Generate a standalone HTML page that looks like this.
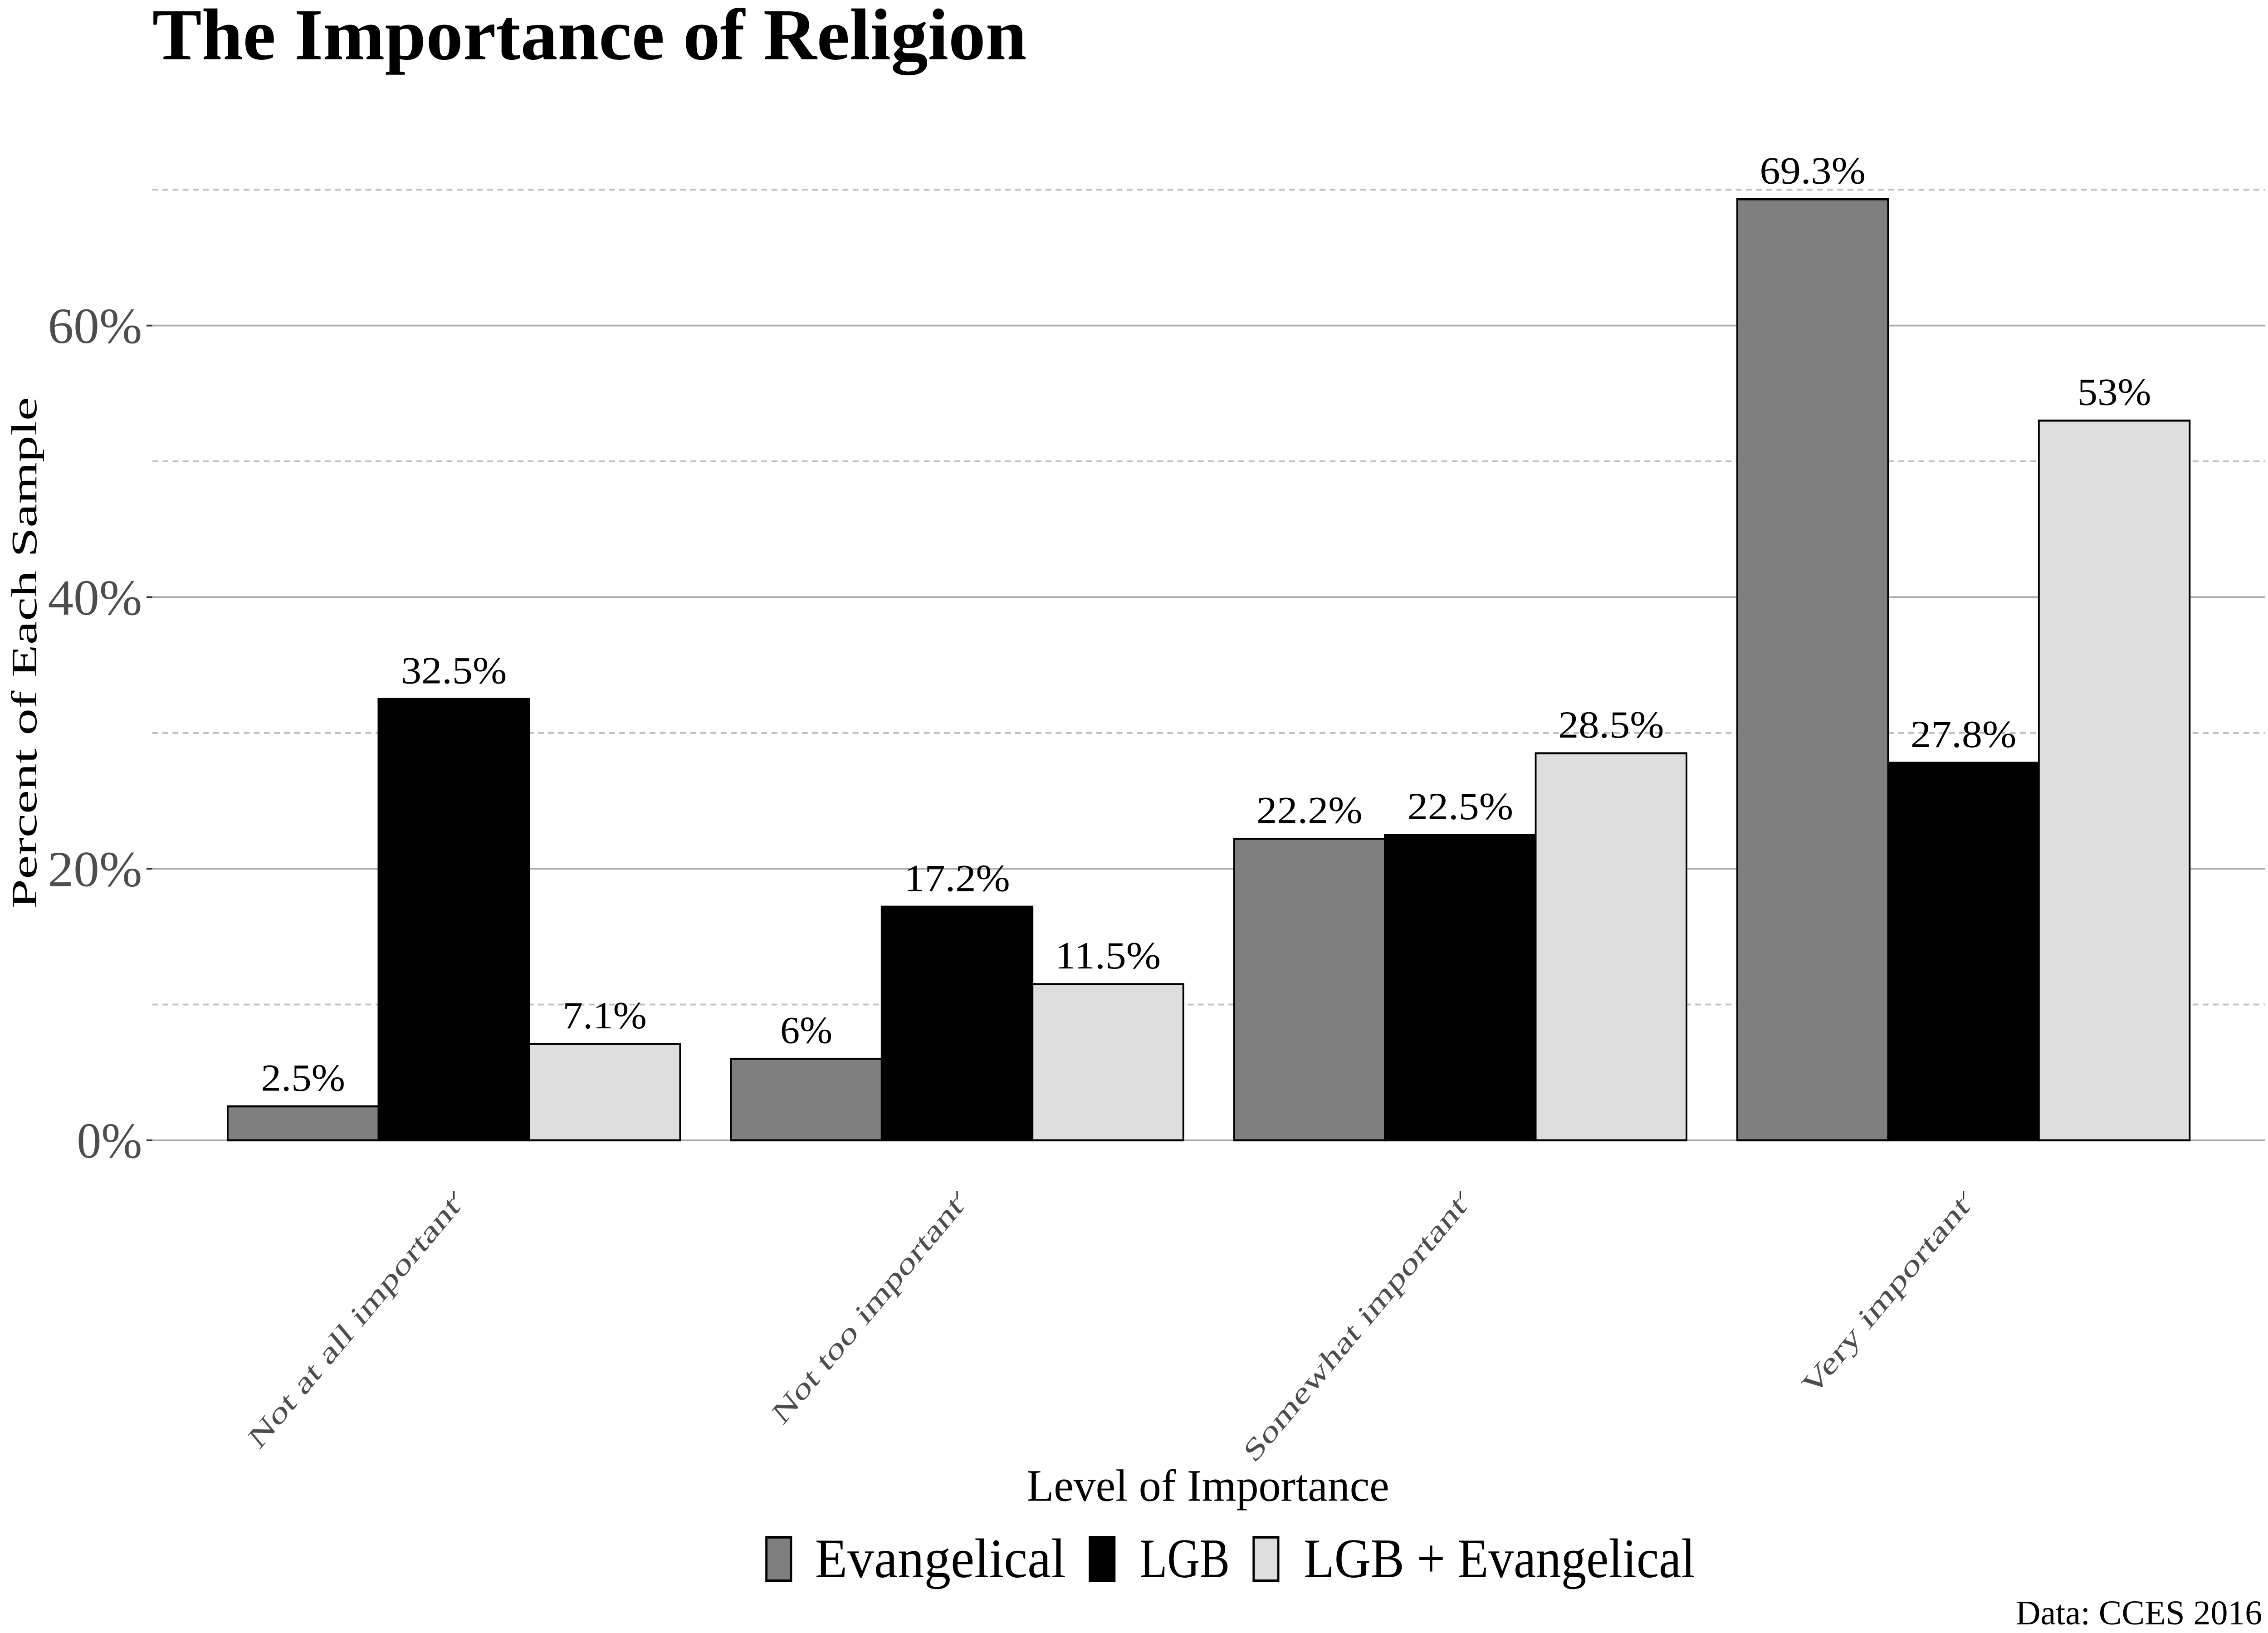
<!DOCTYPE html>
<html><head><meta charset="utf-8"><style>html,body{margin:0;padding:0;background:#fff;width:100%;height:100%;overflow:hidden;}svg{display:block;width:100vw;height:100vh;}</style></head>
<body>
<svg id="chart" xmlns="http://www.w3.org/2000/svg" viewBox="0 0 1564 938" preserveAspectRatio="none" font-family="'Liberation Serif', serif">
<rect x="0" y="0" width="1564" height="938" fill="#fff"/>
<text x="105" y="34" font-size="42" font-weight="bold" fill="#000" textLength="603" lengthAdjust="spacingAndGlyphs">The Importance of Religion</text>
<g id="grid"></g>
<g id="yticks"></g>
<g id="bars"></g>
<g id="xticks"></g>
<text x="0" y="0" transform="translate(25,375) rotate(-90)" text-anchor="middle" font-size="25" fill="#000" textLength="294" lengthAdjust="spacingAndGlyphs">Percent of Each Sample</text>
<text x="833" y="862" text-anchor="middle" font-size="26" fill="#000" textLength="250" lengthAdjust="spacingAndGlyphs">Level of Importance</text>
<g>
<g><rect x="528.5" y="883" width="17" height="25" fill="#7f7f7f" stroke="#000" stroke-width="1.5"/><text x="562" y="906" font-size="32" textLength="173" lengthAdjust="spacingAndGlyphs">Evangelical</text></g>
<g><rect x="751.5" y="883" width="17" height="25" fill="#000" stroke="#000" stroke-width="1.5"/><text x="786" y="906" font-size="32" textLength="62" lengthAdjust="spacingAndGlyphs">LGB</text></g>
<g><rect x="864.5" y="883" width="17" height="25" fill="#dedede" stroke="#000" stroke-width="1.5"/><text x="899" y="906" font-size="32" textLength="270" lengthAdjust="spacingAndGlyphs">LGB + Evangelical</text></g>
</g>
<text x="1560" y="933" text-anchor="end" font-size="20" fill="#000" textLength="170" lengthAdjust="spacingAndGlyphs">Data: CCES 2016</text>
</svg>
<script>
const categories = ["Not at all important","Not too important","Somewhat important","Very important"];
const seriesNames = ["Evangelical","LGB","LGB + Evangelical"];
const evangelical = [2.5, 6, 22.2, 69.3];
const lgb = [32.5, 17.2, 22.5, 27.8];
const lgbEvangelical = [7.1, 11.5, 28.5, 53];
const valueLabels = [["2.5%","6%","22.2%","69.3%"],["32.5%","17.2%","22.5%","27.8%"],["7.1%","11.5%","28.5%","53%"]];
const majorTicks = [0, 20, 40, 60];
const tickLabels = ["0%","20%","40%","60%"];
const minorTicks = [10, 30, 50, 70];

const NS = "http://www.w3.org/2000/svg";
const plotL = 105, plotR = 1562, y0 = 655, pxPer = 7.8;
function yScale(v){ return y0 - v * pxPer; }
const groupW = 347, firstCenter = 313, barW = 104;
function xCenter(i){ return firstCenter + i * groupW; }
const fills = ["#7f7f7f","#000000","#dedede"];
const series = [evangelical, lgb, lgbEvangelical];
const catLen = [197, 177, 208, 154];
function strW(s, d, p, dot){ let w = 0; for (const ch of s) w += ch === '%' ? p : ch === '.' ? dot : d; return w; }
function mk(tag, attrs, parent){ const e = document.createElementNS(NS, tag); for (const k in attrs) e.setAttribute(k, attrs[k]); parent.appendChild(e); return e; }

const grid = document.getElementById('grid');
minorTicks.forEach(v => {
  const l = mk('line', {x1: plotL, x2: plotR, y1: yScale(v), y2: yScale(v), stroke: '#bdbdbd', 'stroke-width': 1, 'stroke-dasharray': '4,3'}, grid);
  
  
});
majorTicks.forEach(v => {
  const l = mk('line', {x1: plotL, x2: plotR, y1: yScale(v), y2: yScale(v), stroke: '#aaaaaa', 'stroke-width': 1}, grid);
  
  
});
const yt = document.getElementById('yticks');
majorTicks.forEach((v, i) => {
  const tk = mk('line', {x1: 101, x2: 105, y1: yScale(v), y2: yScale(v), stroke: '#333', 'stroke-width': 1}, yt);
  
  
  const t = mk('text', {x: 98, y: yScale(v) + 10, 'text-anchor': 'end', 'font-size': 29, fill: '#4d4d4d', textLength: strW(tickLabels[i], 20, 25, 7), lengthAdjust: 'spacingAndGlyphs'}, yt);
  t.textContent = tickLabels[i];
  
  
});
const bars = document.getElementById('bars');
categories.forEach((c, i) => {
  series.forEach((s, j) => {
    const x = xCenter(i) - 1.5 * barW + j * barW;
    const r = mk('rect', {x: x, y: yScale(s[i]), width: barW, height: y0 - yScale(s[i]), fill: fills[j], stroke: '#000', 'stroke-width': 1.2}, bars);
    
    
    const lbl = valueLabels[j][i];
    const t = mk('text', {x: x + barW / 2, y: yScale(s[i]) - 9, 'text-anchor': 'middle', 'font-size': 22, fill: '#000', textLength: strW(lbl, 15, 21, 7), lengthAdjust: 'spacingAndGlyphs'}, bars);
    t.textContent = lbl;
    
    
  });
});
const xt = document.getElementById('xticks');
categories.forEach((c, i) => {
  const tk = mk('line', {x1: xCenter(i), x2: xCenter(i), y1: 684, y2: 689, stroke: '#333', 'stroke-width': 1}, xt);
  
  
  const t = mk('text', {x: 0, y: 0, 'text-anchor': 'end', 'font-size': 18, fill: '#4d4d4d', textLength: catLen[i], lengthAdjust: 'spacingAndGlyphs', transform: 'translate(' + (xCenter(i) + 5) + ',694) rotate(-45)'}, xt);
  t.textContent = c;
  
  
});
</script>
</body></html>
